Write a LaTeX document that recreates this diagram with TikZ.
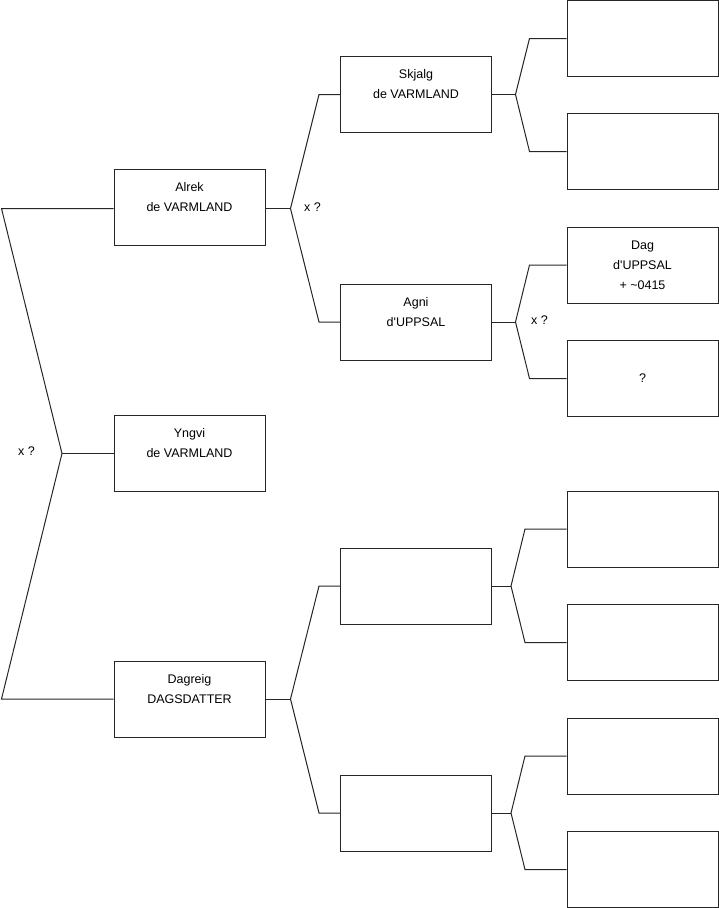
\documentclass[tikz,border=0pt]{standalone}
\usepackage{fontspec}
\setmainfont{Liberation Sans}
\begin{document}
\begin{tikzpicture}[x=1pt,y=-1pt,
  person/.style={draw=black!85,line width=1pt,minimum width=151pt,minimum height=76pt,inner sep=0pt,align=center,font=\fontsize{12.5}{20}\selectfont},
  link/.style={draw=black!85,line width=1pt},
  tag/.style={font=\fontsize{12.5}{15}\selectfont,inner sep=0pt}]
\useasboundingbox (0,0) rectangle (719,908);
% generation 1
\node[person] (alrek) at (189.5,207.5) {\strut Alrek\\\strut de VARMLAND\\\strut};
\node[person] (yngvi) at (189.5,453.5) {\strut Yngvi\\\strut de VARMLAND\\\strut};
\node[person] (dagreig) at (189.5,699) {\strut Dagreig\\\strut DAGSDATTER\\\strut};
% generation 2
\node[person] (skjalg) at (416,94.5) {\strut Skjalg\\\strut de VARMLAND\\\strut};
\node[person] (agni) at (416,322) {\strut Agni\\\strut d\textquotesingle UPPSAL\\\strut};
\node[person] (e1) at (416,586) {};
\node[person] (e2) at (416,813) {};
% generation 3
\node[person] (g1) at (642.5,38.5) {};
\node[person] (g2) at (642.5,151.5) {};
\node[person] (g3) at (642.5,265) {\strut Dag\\\strut d\textquotesingle UPPSAL\\\strut + \textasciitilde0415};
\node[person] (g4) at (642.5,378.5) {\strut ?};
\node[person] (g5) at (642.5,529) {};
\node[person] (g6) at (642.5,642.5) {};
\node[person] (g7) at (642.5,756) {};
\node[person] (g8) at (642.5,869.5) {};
% fork points
\coordinate (r1) at (1.5,208.5);
\coordinate (r0) at (62,453.5);
\coordinate (r2) at (1.5,699);
\coordinate (fa) at (290.5,208.5);
\coordinate (fa1) at (319,94.5);
\coordinate (fa2) at (319,322);
\coordinate (fd) at (290.5,699);
\coordinate (fd1) at (319,586);
\coordinate (fd2) at (319,813);
\coordinate (fs) at (515.5,94.5);
\coordinate (fs1) at (529.5,38.5);
\coordinate (fs2) at (529.5,151.5);
\coordinate (fg) at (515.5,322);
\coordinate (fg1) at (529.5,265);
\coordinate (fg2) at (529.5,378.5);
\coordinate (fe) at (511,586);
\coordinate (fe1) at (525,529);
\coordinate (fe2) at (525,642.5);
\coordinate (ff) at (511,813);
\coordinate (ff1) at (525,756);
\coordinate (ff2) at (525,869.5);
% connectors
\draw[link] (alrek.west |- r1) -- (r1) -- (r0) -- (r2) -- (dagreig.west);
\draw[link] (r0) -- (yngvi.west);
\draw[link] (alrek.east |- fa) -- (fa);
\draw[link] (skjalg.west) -- (fa1) -- (fa) -- (fa2) -- (agni.west);
\draw[link] (dagreig.east) -- (fd);
\draw[link] (e1.west) -- (fd1) -- (fd) -- (fd2) -- (e2.west);
\draw[link] (skjalg.east) -- (fs);
\draw[link] (g1.west) -- (fs1) -- (fs) -- (fs2) -- (g2.west);
\draw[link] (agni.east) -- (fg);
\draw[link] (g3.west) -- (fg1) -- (fg) -- (fg2) -- (g4.west);
\draw[link] (e1.east) -- (fe);
\draw[link] (g5.west) -- (fe1) -- (fe) -- (fe2) -- (g6.west);
\draw[link] (e2.east) -- (ff);
\draw[link] (g7.west) -- (ff1) -- (ff) -- (ff2) -- (g8.west);
% marriage labels
\node[tag] (m0) at (26.5,451.5) {x ?};
\node[tag] (m1) at (312.5,207) {x ?};
\node[tag] (m2) at (539.5,320) {x ?};
\end{tikzpicture}
\end{document}
